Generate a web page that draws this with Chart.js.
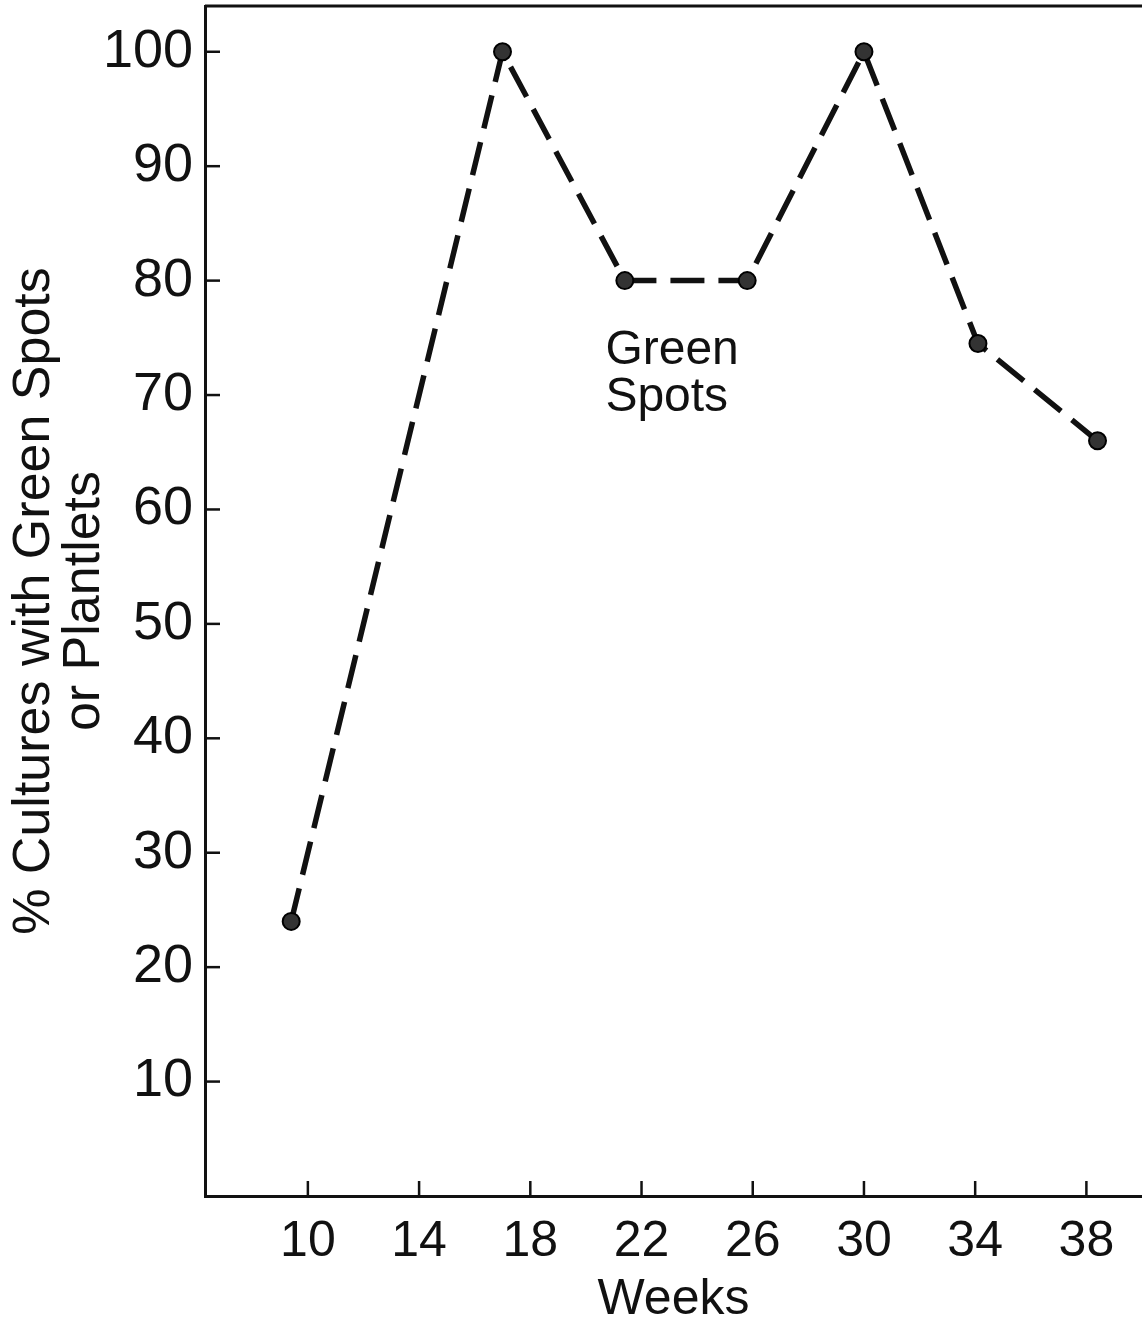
<!DOCTYPE html>
<html>
<head>
<meta charset="utf-8">
<script src="https://cdn.jsdelivr.net/npm/chart.js@4.4.0/dist/chart.umd.min.js"></script>
<style>
  html, body { margin: 0; padding: 0; background: #fff; }
  canvas { display: block; }
</style>
</head>
<body>
<canvas id="grafico" width="1142" height="1334"></canvas>
<script>
// semanas de cultura e % de culturas com manchas verdes
const semanas = [9.4, 17.0, 21.4, 25.8, 30.0, 34.1, 38.4];
const pctManchas = [24, 100, 80, 80, 100, 74.5, 66];
const ticksX = [10, 14, 18, 22, 26, 30, 34, 38];
const ticksY = [10, 20, 30, 40, 50, 60, 70, 80, 90, 100];
const rotuloCurva = ['Green', 'Spots'];

const corTinta = '#111';
const fonte = '"Liberation Sans", Arial, sans-serif';

// moldura superior, marcas de escala para dentro e rótulo da curva
const molduraETicks = {
  id: 'molduraETicks',
  afterDraw(chart) {
    const { ctx, chartArea: a, scales: { x, y } } = chart;
    ctx.save();
    ctx.strokeStyle = corTinta;
    ctx.lineWidth = 3;
    ctx.beginPath();
    ctx.moveTo(a.left, a.top);
    ctx.lineTo(a.right, a.top);
    ctx.stroke();

    ctx.lineWidth = 2.5;
    ticksY.forEach(v => {
      const py = y.getPixelForValue(v);
      ctx.beginPath();
      ctx.moveTo(a.left, py);
      ctx.lineTo(a.left + 15, py);
      ctx.stroke();
    });
    ticksX.forEach(v => {
      const px = x.getPixelForValue(v);
      ctx.beginPath();
      ctx.moveTo(px, a.bottom);
      ctx.lineTo(px, a.bottom - 15);
      ctx.stroke();
    });

    ctx.fillStyle = corTinta;
    ctx.font = '48px ' + fonte;
    ctx.textAlign = 'left';
    ctx.textBaseline = 'alphabetic';
    const lx = x.getPixelForValue(20.7);
    const ly = y.getPixelForValue(72.7);
    rotuloCurva.forEach((t, i) => ctx.fillText(t, lx, ly + i * 47));
    ctx.restore();
  }
};

const ctx = document.getElementById('grafico').getContext('2d');
new Chart(ctx, {
  type: 'line',
  data: {
    datasets: [{
      data: semanas.map((s, i) => ({ x: s, y: pctManchas[i] })),
      borderColor: corTinta,
      borderWidth: 5.5,
      borderDash: [34, 14],
      tension: 0,
      fill: false,
      pointRadius: 8.5,
      pointBackgroundColor: '#333',
      pointBorderColor: '#000',
      pointBorderWidth: 2,
      clip: false
    }]
  },
  options: {
    responsive: false,
    animation: false,
    devicePixelRatio: 1,
    layout: { autoPadding: false, padding: { top: 6, right: 0, left: 0, bottom: 0 } },
    plugins: {
      legend: { display: false },
      tooltip: { enabled: false }
    },
    scales: {
      x: {
        type: 'linear',
        min: 6.3,
        max: 40,
        afterBuildTicks: s => { s.ticks = ticksX.map(v => ({ value: v })); },
        afterFit: s => {
          s.height = 138;
          s.paddingLeft = 0;
          s.paddingRight = 0;
        },
        grid: { display: false, drawTicks: false },
        border: { display: true, color: corTinta, width: 3 },
        ticks: {
          color: corTinta,
          font: { family: fonte, size: 50 },
          padding: 16,
          maxRotation: 0,
          autoSkip: false
        },
        title: {
          display: true,
          text: 'Weeks',
          color: corTinta,
          font: { family: fonte, size: 50, lineHeight: 1.2 },
          padding: { top: 0, bottom: 4 }
        }
      },
      y: {
        min: 0,
        max: 104,
        afterBuildTicks: s => { s.ticks = ticksY.map(v => ({ value: v })); },
        afterFit: s => {
          s.width = 205;
          s.paddingTop = 0;
          s.paddingBottom = 0;
        },
        grid: { display: false, drawTicks: false },
        border: { display: true, color: corTinta, width: 3 },
        ticks: {
          color: corTinta,
          font: { family: fonte, size: 54 },
          padding: 12
        },
        title: {
          display: true,
          text: ['% Cultures with Green Spots', 'or Plantlets'],
          color: corTinta,
          font: { family: fonte, size: 52, lineHeight: 0.96 },
          padding: { top: 10, bottom: 0 }
        }
      }
    }
  },
  plugins: [molduraETicks]
});
</script>
</body>
</html>
